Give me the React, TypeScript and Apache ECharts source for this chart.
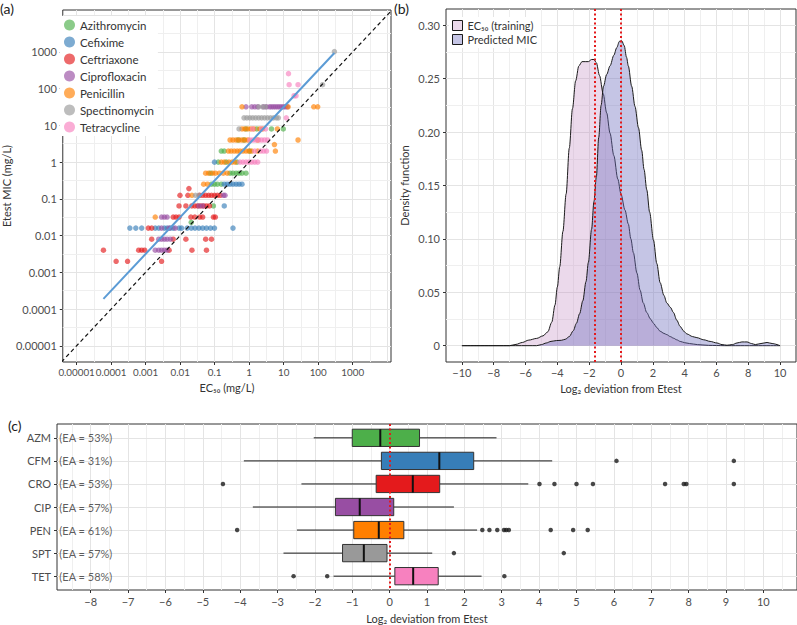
import React, { useEffect, useRef } from 'react';
import * as echarts from 'echarts';

const FONT = 'Lato, "Noto Sans", "DejaVu Sans", sans-serif';

// ---------- Panel (a): EC50 vs Etest MIC ----------
const antibiotics = ['Azithromycin', 'Cefixime', 'Ceftriaxone', 'Ciprofloxacin', 'Penicillin', 'Spectinomycin', 'Tetracycline'];
const antibioticColors = ['#4daf4a', '#377eb8', '#e41a1c', '#984ea3', '#ff7f00', '#999999', '#f781bf'];

// [EC50 (mg/L), Etest MIC (mg/L)]
const azithromycinPts: [number, number][] = [
  [0.81, 8], [1.66, 8], [4.43, 8], [9.74, 8],
  [0.48, 4], [0.71, 4],
  [0.156, 2], [0.19, 2], [1.05, 2],
  [0.128, 1], [0.217, 1], [0.446, 1],
  [0.076, 0.5], [0.28, 0.5], [0.34, 0.5], [0.42, 0.5], [0.51, 0.5], [0.62, 0.5], [0.81, 0.5],
  [0.081, 0.25], [0.099, 0.25], [0.12, 0.25], [0.156, 0.25],
  [0.092, 0.064], [0.021, 0.023],
];
const cefiximePts: [number, number][] = [
  [0.099, 1],
  [0.19, 0.25], [0.23, 0.25], [0.28, 0.25], [0.34, 0.25], [0.42, 0.25], [0.51, 0.25], [0.62, 0.25],
  [0.19, 0.064],
  [0.00035, 0.016], [0.00052, 0.016], [0.00077, 0.016], [0.0019, 0.016], [0.0024, 0.016], [0.0035, 0.016],
  [0.0042, 0.016], [0.0052, 0.016], [0.0063, 0.016], [0.0093, 0.016], [0.011, 0.016], [0.016, 0.016],
  [0.021, 0.016], [0.027, 0.016], [0.035, 0.016], [0.045, 0.016], [0.058, 0.016], [0.076, 0.016],
  [0.099, 0.016], [0.34, 0.016],
];
const ceftriaxonePts: [number, number][] = [
  [0.018, 0.19],
  [0.0099, 0.125], [0.0168, 0.125], [0.037, 0.125], [0.045, 0.125], [0.055, 0.125], [0.067, 0.125],
  [0.081, 0.125], [0.099, 0.125], [0.12, 0.125], [0.146, 0.125],
  [0.0093, 0.064], [0.0147, 0.064], [0.0218, 0.064], [0.0266, 0.064], [0.0324, 0.064], [0.0394, 0.064],
  [0.048, 0.064], [0.058, 0.064], [0.071, 0.064],
  [0.0063, 0.032], [0.0076, 0.032], [0.0093, 0.032], [0.0205, 0.032], [0.0266, 0.032], [0.037, 0.032],
  [0.045, 0.032], [0.092, 0.032], [0.105, 0.032],
  [0.0012, 0.016], [0.0015, 0.016],
  [0.0015, 0.008], [0.0063, 0.008], [0.0147, 0.008], [0.055, 0.008], [0.081, 0.008],
  [0.00006, 0.004], [0.00063, 0.004], [0.00077, 0.004], [0.00094, 0.004], [0.0048, 0.004], [0.022, 0.004], [0.058, 0.004],
  [0.00014, 0.002], [0.0003, 0.002], [0.0029, 0.002],
];
const ciprofloxacinPts: [number, number][] = [
  [0.81, 32], [1.19, 32], [1.45, 32], [1.77, 32], [2.62, 32], [3.19, 32], [3.89, 32], [4.43, 32],
  [5.05, 32], [5.76, 32], [6.57, 32], [7.49, 32], [8.54, 32], [9.74, 32], [11.1, 32], [12.7, 32],
  [0.18, 0.125], [0.2, 0.125],
  [0.035, 0.064], [0.045, 0.064],
  [0.0029, 0.032], [0.0035, 0.032], [0.0042, 0.032],
  [0.0029, 0.016], [0.0048, 0.016], [0.0072, 0.016],
  [0.0024, 0.008], [0.0029, 0.008], [0.0035, 0.008], [0.0042, 0.008], [0.0052, 0.008],
  [0.0019, 0.004], [0.0024, 0.004], [0.0029, 0.004], [0.0035, 0.004], [0.0042, 0.004],
];
const penicillinPts: [number, number][] = [
  [0.62, 32], [13.5, 32], [74.5, 32], [96.8, 32],
  [0.62, 8], [0.75, 8], [0.92, 8], [1.12, 8], [1.36, 8], [2.02, 8], [2.46, 8], [6.57, 8],
  [0.28, 4], [0.34, 4], [0.42, 4], [0.51, 4], [0.62, 4], [0.75, 4], [0.92, 4], [1.77, 4], [26.1, 4],
  [5.4, 3],
  [0.25, 2], [0.3, 2], [0.37, 2], [0.45, 2], [0.54, 2], [0.66, 2], [0.81, 2], [0.98, 2], [1.19, 2], [1.77, 2], [5.76, 2],
  [0.156, 1], [0.19, 1], [0.26, 1], [0.32, 1], [0.39, 1],
  [0.055, 0.5], [0.067, 0.5], [0.087, 0.5], [0.105, 0.5], [0.137, 0.5], [0.178, 0.5], [0.232, 0.5],
  [0.048, 0.25], [0.062, 0.25],
  [0.022, 0.125], [0.0019, 0.032],
];
const spectinomycinPts: [number, number][] = [
  [295, 1024], [134, 128],
  [1.89, 32], [2.46, 32], [2.99, 32],
  [0.71, 16], [0.86, 16], [1.05, 16], [1.27, 16], [1.55, 16], [1.89, 16], [2.3, 16], [2.8, 16],
  [3.41, 16], [4.15, 16], [5.05, 16], [6.15, 16], [7.02, 16],
  [0.51, 8],
  [0.028, 0.125], [0.035, 0.125],
];
const tetracyclinePts: [number, number][] = [
  [13.8, 256], [14.4, 128], [26.1, 128], [20, 64], [22.8, 64], [11.9, 16],
  [1.27, 8], [2.3, 8], [2.99, 8],
  [1.05, 4], [1.27, 4], [1.55, 4], [1.89, 4], [2.3, 4], [2.8, 4], [3.41, 4],
  [1.45, 2], [2.15, 2], [2.62, 2], [3.19, 2],
  [0.54, 1], [0.66, 1], [0.81, 1], [0.98, 1], [1.19, 1], [1.45, 1], [1.77, 1],
];
const scatterSets = [azithromycinPts, cefiximePts, ceftriaxonePts, ciprofloxacinPts, penicillinPts, spectinomycinPts, tetracyclinePts];

// log10 regression line: log10(MIC) = fitIntercept + fitSlope * log10(EC50)
const fitSlope = 1.0;
const fitIntercept = 0.5;
const logTicksA = [-5, -4, -3, -2, -1, 0, 1, 2, 3];
const aXRange = [-5.4, 4.11];
const aYRange = [-5.44, 4.14];

// ---------- Panel (b): density of log2 deviation ----------
const ec50Density: [number, number][] = [
  [-10, 0], [-7, 0], [-6.6, 0.0012], [-6.2, 0.003], [-5.8, 0.0052], [-5.3, 0.0068], [-4.9, 0.0092], [-4.6, 0.013],
  [-4.35, 0.022], [-4.15, 0.038], [-4.0, 0.055], [-3.85, 0.074], [-3.65, 0.107], [-3.45, 0.142], [-3.25, 0.185],
  [-3.05, 0.222], [-2.85, 0.248], [-2.65, 0.262], [-2.45, 0.266], [-2.25, 0.266], [-2.05, 0.266], [-1.85, 0.268],
  [-1.7, 0.268], [-1.55, 0.265], [-1.35, 0.253], [-1.12, 0.236], [-0.9, 0.218], [-0.69, 0.199], [-0.45, 0.178],
  [-0.2, 0.156], [0, 0.142], [0.25, 0.127], [0.46, 0.114], [0.62, 0.1], [0.78, 0.087], [1.0, 0.068], [1.2, 0.052],
  [1.4, 0.04], [1.62, 0.031], [1.85, 0.025], [2.04, 0.021], [2.25, 0.017], [2.46, 0.0135], [2.7, 0.0115],
  [2.88, 0.0103], [3.1, 0.0085], [3.3, 0.007], [3.5, 0.0055], [3.72, 0.004], [4.0, 0.0028], [4.3, 0.002],
  [4.8, 0.001], [5.5, 0.0003], [6.5, 0], [10, 0],
];
const predictedDensity: [number, number][] = [
  [-10, 0], [-5.3, 0], [-5.0, 0.001], [-4.7, 0.0025], [-4.4, 0.004], [-4.05, 0.0048], [-3.75, 0.005], [-3.5, 0.006],
  [-3.25, 0.0085], [-3.0, 0.014], [-2.8, 0.021], [-2.6, 0.03], [-2.4, 0.042], [-2.2, 0.06], [-2.05, 0.078],
  [-1.85, 0.109], [-1.7, 0.135], [-1.55, 0.158], [-1.4, 0.195], [-1.25, 0.225], [-1.1, 0.243], [-0.9, 0.254],
  [-0.69, 0.262], [-0.45, 0.272], [-0.27, 0.279], [-0.1, 0.285], [0.05, 0.2855], [0.2, 0.281], [0.35, 0.27],
  [0.46, 0.262], [0.67, 0.243], [0.88, 0.224], [1.1, 0.204], [1.3, 0.183], [1.45, 0.165], [1.62, 0.146],
  [1.8, 0.125], [2.04, 0.099], [2.25, 0.077], [2.46, 0.059], [2.7, 0.047], [2.88, 0.04], [3.1, 0.036],
  [3.3, 0.031], [3.5, 0.024], [3.72, 0.018], [3.95, 0.0135], [4.14, 0.011], [4.5, 0.0085], [4.77, 0.0075],
  [5.2, 0.0055], [5.6, 0.004], [6.03, 0.0025], [6.35, 0.001], [6.66, 0.0004], [7.0, 0.001], [7.29, 0.0025],
  [7.6, 0.0035], [7.92, 0.0035], [8.2, 0.002], [8.44, 0.001], [8.8, 0.002], [9.18, 0.003], [9.5, 0.002], [10, 0],
];
const densityNames = ['EC\u2085\u2080 (training)', 'Predicted MIC'];
const densityFills = ['rgba(190,130,190,0.3)', 'rgba(110,110,190,0.4)'];
const densityMedians = [-1.68, 0];
const bXTicks = [-10, -8, -6, -4, -2, 0, 2, 4, 6, 8, 10];
const bYTicks = [0, 0.05, 0.1, 0.15, 0.2, 0.25, 0.3];

// ---------- Panel (c): box plots per antibiotic ----------
const drugCodes = ['AZM', 'CFM', 'CRO', 'CIP', 'PEN', 'SPT', 'TET'];
const eaPercent = [53, 31, 53, 57, 61, 57, 58];
const boxColors = ['#4daf4a', '#377eb8', '#e41a1c', '#984ea3', '#ff7f00', '#999999', '#f781bf'];
const whiskerLow = [-2.03, -3.9, -2.36, -3.66, -2.48, -2.84, -1.5];
const boxQ1 = [-1.0, -0.22, -0.36, -1.45, -0.96, -1.26, 0.14];
const boxMedian = [-0.25, 1.33, 0.62, -0.8, -0.29, -0.69, 0.63];
const boxQ3 = [0.8, 2.25, 1.34, 0.11, 0.38, -0.07, 1.3];
const whiskerHigh = [2.86, 4.35, 3.71, 1.72, 2.34, 1.14, 2.46];
const outliers: number[][] = [
  [],
  [6.07, 9.21],
  [-4.46, 4.01, 4.41, 5.0, 5.44, 7.37, 7.87, 7.94, 9.21],
  [],
  [-4.08, 2.48, 2.67, 2.88, 3.06, 3.12, 3.19, 4.31, 4.91, 5.3],
  [1.72, 4.66],
  [-2.57, -1.67, 3.07],
];
const cXTicks = [-8, -7, -6, -5, -4, -3, -2, -1, 0, 1, 2, 3, 4, 5, 6, 7, 8, 9, 10];
const cXRange = [-8.9, 10.9];
const eaLabelX = -8.85;

// ---------- helpers ----------
const seq = (a: number, b: number, step: number) => {
  const out: number[] = [];
  for (let v = a; v <= b + 1e-9; v += step) out.push(Math.round(v * 10000) / 10000);
  return out;
};
const MAJOR = { color: '#e4e4e4', width: 1, type: 'solid' };
const MINOR = { color: '#efefef', width: 1, type: 'solid' };
const gridMark = (xs: number[], ys: number[], isMajorX: (v: number) => boolean, isMajorY: (v: number) => boolean) => ({
  silent: true,
  z: 1,
  precision: 6,
  symbol: ['none', 'none'],
  label: { show: false },
  emphasis: { disabled: true },
  data: [
    ...xs.map((v) => ({ xAxis: v, lineStyle: isMajorX(v) ? MAJOR : MINOR })),
    ...ys.map((v) => ({ yAxis: v, lineStyle: isMajorY(v) ? MAJOR : MINOR })),
  ],
});
const isInt = (v: number) => Math.abs(v - Math.round(v)) < 1e-6;
const fmtLog = (v: number) => {
  const r = Math.round(v);
  return r >= 0 ? String(10 ** r) : '0.' + '0'.repeat(-r - 1) + '1';
};
const fmtMinus = (v: number) => (v < 0 ? '\u2212' + Math.abs(v) : String(v));

const tickStyle = { show: true, length: 3, lineStyle: { color: '#333', width: 1 } };
const labelStyle = { color: '#4d4d4d', fontSize: 11, fontFamily: FONT, showMinLabel: true, showMaxLabel: true, hideOverlap: false };
const nameStyle = { color: '#333', fontSize: 11, fontFamily: FONT };
const baseAxis = {
  type: 'value',
  axisLine: { show: false, onZero: false },
  splitLine: { show: false },
  nameTextStyle: nameStyle,
  nameLocation: 'middle',
};

function buildOption() {
  const allEc50 = scatterSets.flat().map((p) => Math.log10(p[0]));
  const fitX0 = Math.min(...allEc50);
  const fitX1 = Math.max(...allEc50);
  const idLo = Math.min(aXRange[0], aYRange[0]);
  const idHi = Math.max(aXRange[1], aYRange[1]);

  const aGrid = seq(-5, 4, 0.5);
  const boxData = drugCodes.map((_, i) => [i + 1, whiskerLow[i], boxQ1[i], boxMedian[i], boxQ3[i], whiskerHigh[i]]);
  const outlierData: number[][] = [];
  outliers.forEach((arr, i) => arr.forEach((v) => outlierData.push([v, i + 1])));

  return {
    animation: false,
    backgroundColor: '#fff',
    textStyle: { fontFamily: FONT },
    grid: [
      { left: 58, top: 10, width: 333, height: 352, show: true, borderColor: '#333', borderWidth: 1, backgroundColor: 'transparent' },
      { left: 446, top: 9, width: 350, height: 353, show: true, borderColor: '#333', borderWidth: 1, backgroundColor: 'transparent' },
      { left: 57, top: 424, width: 740, height: 166, show: true, borderColor: '#333', borderWidth: 1, backgroundColor: 'transparent' },
    ],
    xAxis: [
      {
        ...baseAxis, gridIndex: 0, min: aXRange[0], max: aXRange[1],
        axisTick: { ...tickStyle, customValues: logTicksA },
        axisLabel: { ...labelStyle, fontSize: 9.8, customValues: logTicksA, formatter: fmtLog, margin: 5 },
        name: 'EC\u2085\u2080 (mg/L)', nameGap: 19,
      },
      {
        ...baseAxis, gridIndex: 1, min: -11, max: 11,
        axisTick: { ...tickStyle, customValues: bXTicks },
        axisLabel: { ...labelStyle, customValues: bXTicks, formatter: fmtMinus, margin: 5 },
        name: 'Log\u2082 deviation from Etest', nameGap: 19,
      },
      {
        ...baseAxis, gridIndex: 2, min: cXRange[0], max: cXRange[1],
        axisTick: { ...tickStyle, customValues: cXTicks },
        axisLabel: { ...labelStyle, customValues: cXTicks, formatter: fmtMinus, margin: 6 },
        name: 'Log\u2082 deviation from Etest', nameGap: 23,
      },
    ],
    yAxis: [
      {
        ...baseAxis, gridIndex: 0, min: aYRange[0], max: aYRange[1],
        axisTick: { ...tickStyle, customValues: logTicksA },
        axisLabel: { ...labelStyle, customValues: logTicksA, formatter: fmtLog, margin: 6 },
        name: 'Etest MIC (mg/L)', nameGap: 40,
      },
      {
        ...baseAxis, gridIndex: 1, min: -0.0153, max: 0.3153,
        axisTick: { ...tickStyle, customValues: bYTicks },
        axisLabel: { ...labelStyle, customValues: bYTicks, formatter: (v: number) => (v === 0 ? '0' : v.toFixed(2)), margin: 6 },
        name: 'Density function', nameGap: 36,
      },
      {
        ...baseAxis, gridIndex: 2, min: 0.4, max: 7.6, inverse: true,
        axisTick: { ...tickStyle, customValues: [1, 2, 3, 4, 5, 6, 7] },
        axisLabel: { ...labelStyle, customValues: [1, 2, 3, 4, 5, 6, 7], formatter: (v: number) => drugCodes[Math.round(v) - 1], margin: 6 },
      },
    ],
    legend: [
      {
        data: antibiotics, orient: 'vertical', left: 60, top: 16, icon: 'circle',
        itemWidth: 11, itemHeight: 11, itemGap: 5, selectedMode: false,
        backgroundColor: '#fff', padding: [3, 4, 3, 4],
        textStyle: { fontSize: 11.5, color: '#333', fontFamily: FONT },
      },
      {
        data: densityNames.map((n, i) => ({ name: n, itemStyle: { color: densityFills[i], borderColor: '#1a1a1a', borderWidth: 1 } })),
        orient: 'vertical', left: 449, top: 17, icon: 'rect',
        itemWidth: 10, itemHeight: 10, itemGap: 3, selectedMode: false,
        backgroundColor: '#fff', padding: [3, 4, 3, 3],
        textStyle: { fontSize: 11, color: '#333', fontFamily: FONT },
      },
    ],
    graphic: [
      { type: 'text', left: 0, top: 1, style: { text: '(a)', fontSize: 14, fontFamily: FONT, fill: '#1a1a1a' } },
      { type: 'text', left: 394, top: 1, style: { text: '(b)', fontSize: 14, fontFamily: FONT, fill: '#1a1a1a' } },
      { type: 'text', left: 8, top: 418, style: { text: '(c)', fontSize: 14, fontFamily: FONT, fill: '#1a1a1a' } },
    ],
    series: [
      // identity line + panel (a) grid
      {
        type: 'line', name: 'identity', xAxisIndex: 0, yAxisIndex: 0, clip: true,
        data: [[idLo, idLo], [idHi, idHi]], showSymbol: false, symbol: 'none', z: 4,
        lineStyle: { color: '#111', width: 1.2, type: [4, 3] },
        markLine: gridMark(aGrid, aGrid, isInt, isInt),
      },
      ...antibiotics.map((name, i) => ({
        type: 'scatter', name, xAxisIndex: 0, yAxisIndex: 0,
        data: scatterSets[i].map(([e, m]) => [Math.log10(e), Math.log10(m)]),
        symbolSize: 5.5, z: 2,
        itemStyle: { color: antibioticColors[i], opacity: 0.65 },
      })),
      {
        type: 'line', name: 'fit', xAxisIndex: 0, yAxisIndex: 0, showSymbol: false, symbol: 'none', z: 3,
        data: [[fitX0, fitIntercept + fitSlope * fitX0], [fitX1, fitIntercept + fitSlope * fitX1]],
        lineStyle: { color: '#5b9bd5', width: 2 },
      },
      // panel (b)
      {
        type: 'line', name: densityNames[0], xAxisIndex: 1, yAxisIndex: 1, data: ec50Density,
        smooth: 0.3, smoothMonotone: 'x', showSymbol: false, symbol: 'none', z: 2,
        lineStyle: { color: '#1a1a1a', width: 1 }, itemStyle: { color: densityFills[0] },
        areaStyle: { color: densityFills[0], opacity: 1 },
        markLine: gridMark(seq(-10, 10, 1), seq(0, 0.3, 0.025), (v) => isInt(v / 2), (v) => isInt(v / 0.05)),
      },
      {
        type: 'line', name: densityNames[1], xAxisIndex: 1, yAxisIndex: 1, data: predictedDensity,
        smooth: 0.3, smoothMonotone: 'x', showSymbol: false, symbol: 'none', z: 3,
        lineStyle: { color: '#1a1a1a', width: 1 }, itemStyle: { color: densityFills[1] },
        areaStyle: { color: densityFills[1], opacity: 1 },
        markLine: {
          silent: true, z: 6, precision: 4, symbol: ['none', 'none'], label: { show: false },
          lineStyle: { color: '#e41a1c', width: 2, type: [2, 2.5] },
          data: densityMedians.map((v) => ({ xAxis: v })),
        },
      },
      // panel (c)
      {
        type: 'scatter', name: 'outliers', xAxisIndex: 2, yAxisIndex: 2, data: outlierData,
        symbolSize: 4.5, itemStyle: { color: '#1a1a1a' }, z: 3,
        markLine: gridMark(seq(-8.5, 10.5, 0.5), [1, 2, 3, 4, 5, 6, 7], isInt, () => true),
      },
      {
        type: 'custom', name: 'boxes', xAxisIndex: 2, yAxisIndex: 2, data: boxData, z: 2,
        encode: { x: [1, 2, 3, 4, 5], y: 0 },
        renderItem: (params: any, api: any) => {
          const row = api.value(0);
          const vals = [1, 2, 3, 4, 5].map((k) => api.value(k));
          const pts = vals.map((v) => api.coord([v, row]));
          const h = api.size([0, 1])[1] * 0.75;
          const cy = pts[0][1];
          const stroke = { stroke: '#1a1a1a', lineWidth: 1 };
          return {
            type: 'group',
            children: [
              { type: 'line', shape: { x1: pts[0][0], y1: cy, x2: pts[1][0], y2: cy }, style: stroke },
              { type: 'line', shape: { x1: pts[3][0], y1: cy, x2: pts[4][0], y2: cy }, style: stroke },
              {
                type: 'rect',
                shape: { x: pts[1][0], y: cy - h / 2, width: pts[3][0] - pts[1][0], height: h },
                style: { fill: boxColors[params.dataIndex], stroke: '#333', lineWidth: 1 },
              },
              { type: 'line', shape: { x1: pts[2][0], y1: cy - h / 2, x2: pts[2][0], y2: cy + h / 2 }, style: { stroke: '#111', lineWidth: 2 } },
            ],
          };
        },
        markLine: {
          silent: true, z: 6, precision: 4, symbol: ['none', 'none'], label: { show: false },
          lineStyle: { color: '#e41a1c', width: 2, type: [2, 2.5] },
          data: [{ xAxis: 0 }],
        },
      },
      {
        type: 'scatter', name: 'EA labels', xAxisIndex: 2, yAxisIndex: 2, z: 4,
        data: eaPercent.map((ea, i) => [eaLabelX, i + 1, ea]),
        symbolSize: 1, itemStyle: { color: 'transparent' },
        label: {
          show: true, position: 'right', distance: 0, color: '#333', fontSize: 11, fontFamily: FONT,
          formatter: (p: any) => `(EA = ${p.value[2]}%)`,
        },
      },
    ],
  };
}

export default function App() {
  const ref = useRef<HTMLDivElement>(null);
  useEffect(() => {
    if (!ref.current) return;
    const chart = echarts.init(ref.current, null, { renderer: 'svg' });
    chart.setOption(buildOption() as any);
    return () => chart.dispose();
  }, []);
  return <div ref={ref} style={{ position: 'fixed', left: 0, top: 0, width: 797, height: 625, background: '#fff' }} />;
}
